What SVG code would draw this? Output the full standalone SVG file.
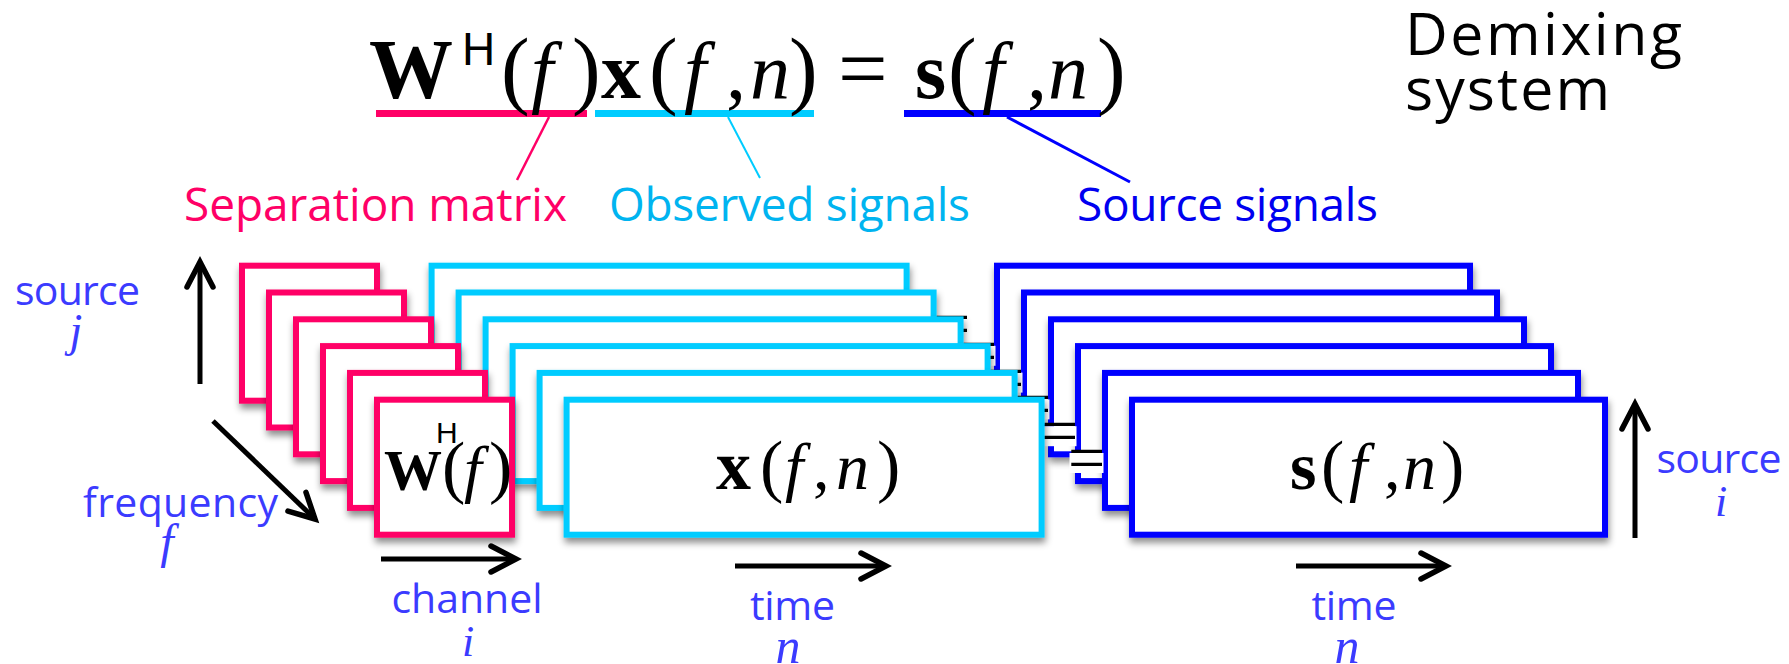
<svg xmlns="http://www.w3.org/2000/svg" width="1789" height="664" viewBox="0 0 1789 664">
<defs>
<style>
.lbl{font-family:"Open Sans","Liberation Sans",sans-serif;}
.ax{font-family:"Open Sans","Liberation Sans",sans-serif;font-size:41px;fill:#3B3BFF;text-anchor:middle;}
.axi{font-family:"Liberation Serif","DejaVu Serif",serif;font-style:italic;fill:#3B3BFF;text-anchor:middle;}
.m{font-family:"Liberation Serif","DejaVu Serif",serif;fill:#000;}
.b{font-weight:bold;}
.i{font-style:italic;}
.sup{font-family:"Liberation Sans","DejaVu Sans",sans-serif;fill:#000;}
.pk{fill:#fff;stroke:#FF0066;stroke-width:6;}
.cy{fill:#fff;stroke:#00CCFF;stroke-width:6;}
.bl{fill:#fff;stroke:#0000FF;stroke-width:6;}
.eqbg{fill:#fff;}
.eq{font-family:"Liberation Serif","DejaVu Serif",serif;font-size:66px;text-anchor:middle;fill:#000;}
.arr{fill:none;stroke:#000;stroke-width:5;marker-end:url(#chev);}
</style>
<filter id="sh" x="-10%" y="-10%" width="125%" height="130%">
<feDropShadow dx="1" dy="5" stdDeviation="3.5" flood-color="#000" flood-opacity="0.45"/>
</filter>
<marker id="chev" markerUnits="userSpaceOnUse" orient="auto" refX="0" refY="0" markerWidth="60" markerHeight="60" viewBox="-40 -30 60 60" overflow="visible">
<path d="M-25,-13 L0,0 L-25,13" fill="none" stroke="#000" stroke-width="5.5" stroke-linecap="round" stroke-linejoin="miter"/>
</marker>
</defs>
<rect width="1789" height="664" fill="#fff"/>

<g id="equation">
<rect x="376" y="110" width="211" height="7" fill="#FF0066"/>
<rect x="595" y="110" width="219" height="7" fill="#00CCFF"/>
<rect x="904" y="110" width="197" height="7" fill="#0000FF"/>
<text class="m" y="98"><tspan class="b" x="369" font-size="84">W</tspan><tspan x="501" font-size="86">(</tspan><tspan class="i" x="531" font-size="80">f</tspan><tspan x="572" font-size="86">)</tspan><tspan class="b" x="601" font-size="80">x</tspan><tspan x="649" font-size="86">(</tspan><tspan class="i" x="684" font-size="80">f</tspan><tspan x="726" font-size="80">,</tspan><tspan class="i" x="750" font-size="80">n</tspan><tspan x="789" font-size="86">)</tspan><tspan x="838" font-size="88">=</tspan><tspan class="b" x="915" font-size="80">s</tspan><tspan x="948" font-size="86">(</tspan><tspan class="i" x="982" font-size="80">f</tspan><tspan x="1027" font-size="80">,</tspan><tspan class="i" x="1048" font-size="80">n</tspan><tspan x="1097" font-size="86">)</tspan></text>
<text class="sup" x="462" y="65" font-size="46">H</text>
</g>

<g id="title">
<text class="lbl" x="1405" y="55" font-size="59" textLength="277" fill="#000">Demixing</text>
<text class="lbl" x="1405" y="110" font-size="59" textLength="205" fill="#000">system</text>
</g>

<g id="label-separation"><text class="lbl" x="184" y="221" font-size="46" textLength="383" fill="#FF0066">Separation matrix</text></g>
<g id="label-observed"><text class="lbl" x="609" y="221" font-size="46" textLength="361" fill="#00B4F0">Observed signals</text></g>
<g id="label-source"><text class="lbl" x="1077" y="221" font-size="46" textLength="301" fill="#0000F0">Source signals</text></g>

<g id="connectors">
<line x1="549" y1="117" x2="517" y2="180" stroke="#FF0066" stroke-width="2.5"/>
<line x1="728" y1="117" x2="760" y2="178" stroke="#00CCFF" stroke-width="2"/>
<line x1="1007" y1="117" x2="1130" y2="182" stroke="#0000FF" stroke-width="3"/>
</g>

<g id="W1" filter="url(#sh)"><rect class="pk" x="242" y="265.7" width="135" height="135"/></g>
<g id="X1" filter="url(#sh)"><rect class="cy" x="431.6" y="265.7" width="475" height="135"/></g>
<g id="EQ1"><rect class="eqbg" x="934.5" y="319" width="34" height="20"/><text class="eq" x="951.5" y="346">=</text></g>
<g id="S1" filter="url(#sh)"><rect class="bl" x="997" y="265.7" width="473" height="135"/></g>

<g id="W2" filter="url(#sh)"><rect class="pk" x="269" y="292.5" width="135" height="135"/></g>
<g id="X2" filter="url(#sh)"><rect class="cy" x="458.6" y="292.5" width="475" height="135"/></g>
<g id="EQ2"><rect class="eqbg" x="961.5" y="345.8" width="34" height="20"/><text class="eq" x="978.5" y="372.8">=</text></g>
<g id="S2" filter="url(#sh)"><rect class="bl" x="1024" y="292.5" width="473" height="135"/></g>

<g id="W3" filter="url(#sh)"><rect class="pk" x="296" y="319.3" width="135" height="135"/></g>
<g id="X3" filter="url(#sh)"><rect class="cy" x="485.6" y="319.3" width="475" height="135"/></g>
<g id="EQ3"><rect class="eqbg" x="988.5" y="372.6" width="34" height="20"/><text class="eq" x="1005.5" y="399.6">=</text></g>
<g id="S3" filter="url(#sh)"><rect class="bl" x="1051" y="319.3" width="473" height="135"/></g>

<g id="W4" filter="url(#sh)"><rect class="pk" x="323" y="346.1" width="135" height="135"/></g>
<g id="X4" filter="url(#sh)"><rect class="cy" x="512.6" y="346.1" width="475" height="135"/></g>
<g id="EQ4"><rect class="eqbg" x="1015.5" y="399.4" width="34" height="20"/><text class="eq" x="1032.5" y="426.4">=</text></g>
<g id="S4" filter="url(#sh)"><rect class="bl" x="1078" y="346.1" width="473" height="135"/></g>

<g id="W5" filter="url(#sh)"><rect class="pk" x="350" y="372.9" width="135" height="135"/></g>
<g id="X5" filter="url(#sh)"><rect class="cy" x="539.6" y="372.9" width="475" height="135"/></g>
<g id="EQ5"><rect class="eqbg" x="1042.5" y="426.2" width="34" height="20"/><text class="eq" x="1059.5" y="453.2">=</text></g>
<g id="S5" filter="url(#sh)"><rect class="bl" x="1105" y="372.9" width="473" height="135"/></g>

<g id="W6" filter="url(#sh)"><rect class="pk" x="377" y="399.7" width="135" height="135"/></g>
<g id="X6" filter="url(#sh)"><rect class="cy" x="566.6" y="399.7" width="475" height="135"/></g>
<g id="EQ6"><rect class="eqbg" x="1069.5" y="453" width="34" height="20"/><text class="eq" x="1086.5" y="480">=</text></g>
<g id="S6" filter="url(#sh)"><rect class="bl" x="1132" y="399.7" width="473" height="135"/></g>

<g id="W6-text">
<text class="m" y="490"><tspan class="b" x="384" font-size="58">W</tspan><tspan x="442" font-size="70">(</tspan><tspan class="i" x="464" font-size="64">f</tspan><tspan x="489" font-size="70">)</tspan></text>
<text class="sup" x="436" y="443" font-size="30">H</text>
</g>
<g id="X6-text">
<text class="m" y="489"><tspan class="b" x="716" font-size="70">x</tspan><tspan x="760" font-size="70">(</tspan><tspan class="i" x="785" font-size="66">f</tspan><tspan x="813" font-size="66">,</tspan><tspan class="i" x="836" font-size="66">n</tspan><tspan x="877" font-size="70">)</tspan></text>
</g>
<g id="S6-text">
<text class="m" y="489"><tspan class="b" x="1290" font-size="68">s</tspan><tspan x="1321" font-size="70">(</tspan><tspan class="i" x="1349" font-size="66">f</tspan><tspan x="1384" font-size="66">,</tspan><tspan class="i" x="1403" font-size="66">n</tspan><tspan x="1441" font-size="70">)</tspan></text>
</g>

<g id="axes">
<line class="arr" x1="200" y1="384" x2="200" y2="262"/>
<line class="arr" x1="213" y1="421" x2="315" y2="519"/>
<line class="arr" x1="381" y1="559" x2="516" y2="559"/>
<line class="arr" x1="735" y1="566" x2="886" y2="566"/>
<line class="arr" x1="1296" y1="566" x2="1446" y2="566"/>
<line class="arr" x1="1635" y1="538" x2="1635" y2="404"/>
</g>

<g id="axis-labels">
<text class="ax" x="77.5" y="305" textLength="125">source</text>
<text class="axi" x="76" y="346" font-size="46">j</text>
<text class="ax" x="180.5" y="517" textLength="195">frequency</text>
<text class="axi" x="167" y="558" font-size="48">f</text>
<text class="ax" x="467" y="613" textLength="151">channel</text>
<text class="axi" x="468" y="656" font-size="44">i</text>
<text class="ax" x="792.5" y="620" textLength="85">time</text>
<text class="axi" x="788" y="663" font-size="50">n</text>
<text class="ax" x="1354" y="620" textLength="85">time</text>
<text class="axi" x="1347" y="663" font-size="50">n</text>
<text class="ax" x="1719" y="473" textLength="125">source</text>
<text class="axi" x="1721" y="516" font-size="44">i</text>
</g>
</svg>
